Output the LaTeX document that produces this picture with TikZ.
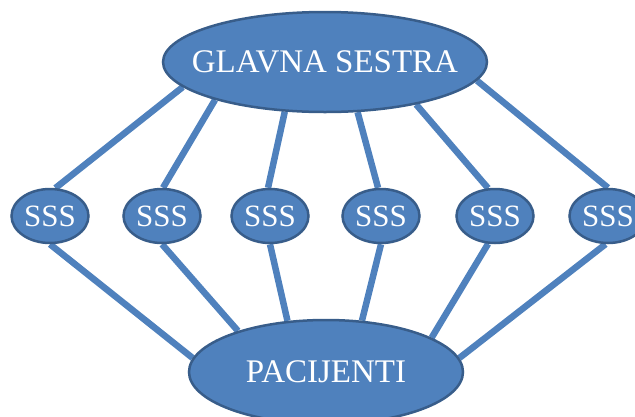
\documentclass[tikz,border=0pt]{standalone}
\usepackage{fontspec}
\setmainfont{Liberation Serif}
\usetikzlibrary{shapes.geometric, backgrounds}
\definecolor{ovalblue}{HTML}{4F81BD}
\definecolor{rimblue}{HTML}{385D8A}
\tikzset{oval/.style={ellipse, fill=ovalblue, draw=rimblue, line width=2.5pt, inner sep=0pt},
  ovaltext/.style={text=white, inner sep=0pt, font=\fontsize{33}{33}\selectfont},
  smalltext/.style={text=white, inner sep=0pt, font=\fontsize{31}{31}\selectfont},
  link/.style={draw=ovalblue, line width=6.5pt}}

\begin{document}
\begin{tikzpicture}[x=1pt, y=-1pt]
    \useasboundingbox (0,0) rectangle (635,416);
    \clip (0,0) rectangle (635,416);
    % head nurse, staff, patients
    \node[oval, minimum width=324pt, minimum height=100pt, label={[ovaltext]center:GLAVNA SESTRA}] (GS) at (325,62) {};
    \node[oval, minimum width=77pt, minimum height=54pt, label={[smalltext]center:SSS}] (S1) at (50,216) {};
    \node[oval, minimum width=77pt, minimum height=54pt, label={[smalltext]center:SSS}] (S2) at (162,216) {};
    \node[oval, minimum width=77pt, minimum height=54pt, label={[smalltext]center:SSS}] (S3) at (270,216) {};
    \node[oval, minimum width=77pt, minimum height=54pt, label={[smalltext]center:SSS}] (S4) at (381,216) {};
    \node[oval, minimum width=77pt, minimum height=54pt, label={[smalltext]center:SSS}] (S5) at (495,216) {};
    \node[oval, minimum width=77pt, minimum height=54pt, label={[smalltext]center:SSS}] (S6) at (608,216) {};
    \node[oval, minimum width=274pt, minimum height=104pt, label={[ovaltext]center:PACIJENTI}] (P) at (326,372) {};
    \begin{scope}[on background layer]
    \draw[link] (GS.190) -- (S1.79);
    \draw[link] (GS.199) -- (S2.88);
    \draw[link] (GS.231) -- (S3.94);
    \draw[link] (GS.303) -- (S4.96);
    \draw[link] (GS.335) -- (S5.104);
    \draw[link] (GS.353) -- (S6.90);
    \draw[link] (S1.south) -- (P.174);
    \draw[link] (S2.south) -- (P.155);
    \draw[link] (S3.south) -- (P.127);
    \draw[link] (S4.south) -- (P.55);
    \draw[link] (S5.256) -- (P.18);
    \draw[link] (S6.265) -- (P.6);
    \end{scope}
\end{tikzpicture}
\end{document}
